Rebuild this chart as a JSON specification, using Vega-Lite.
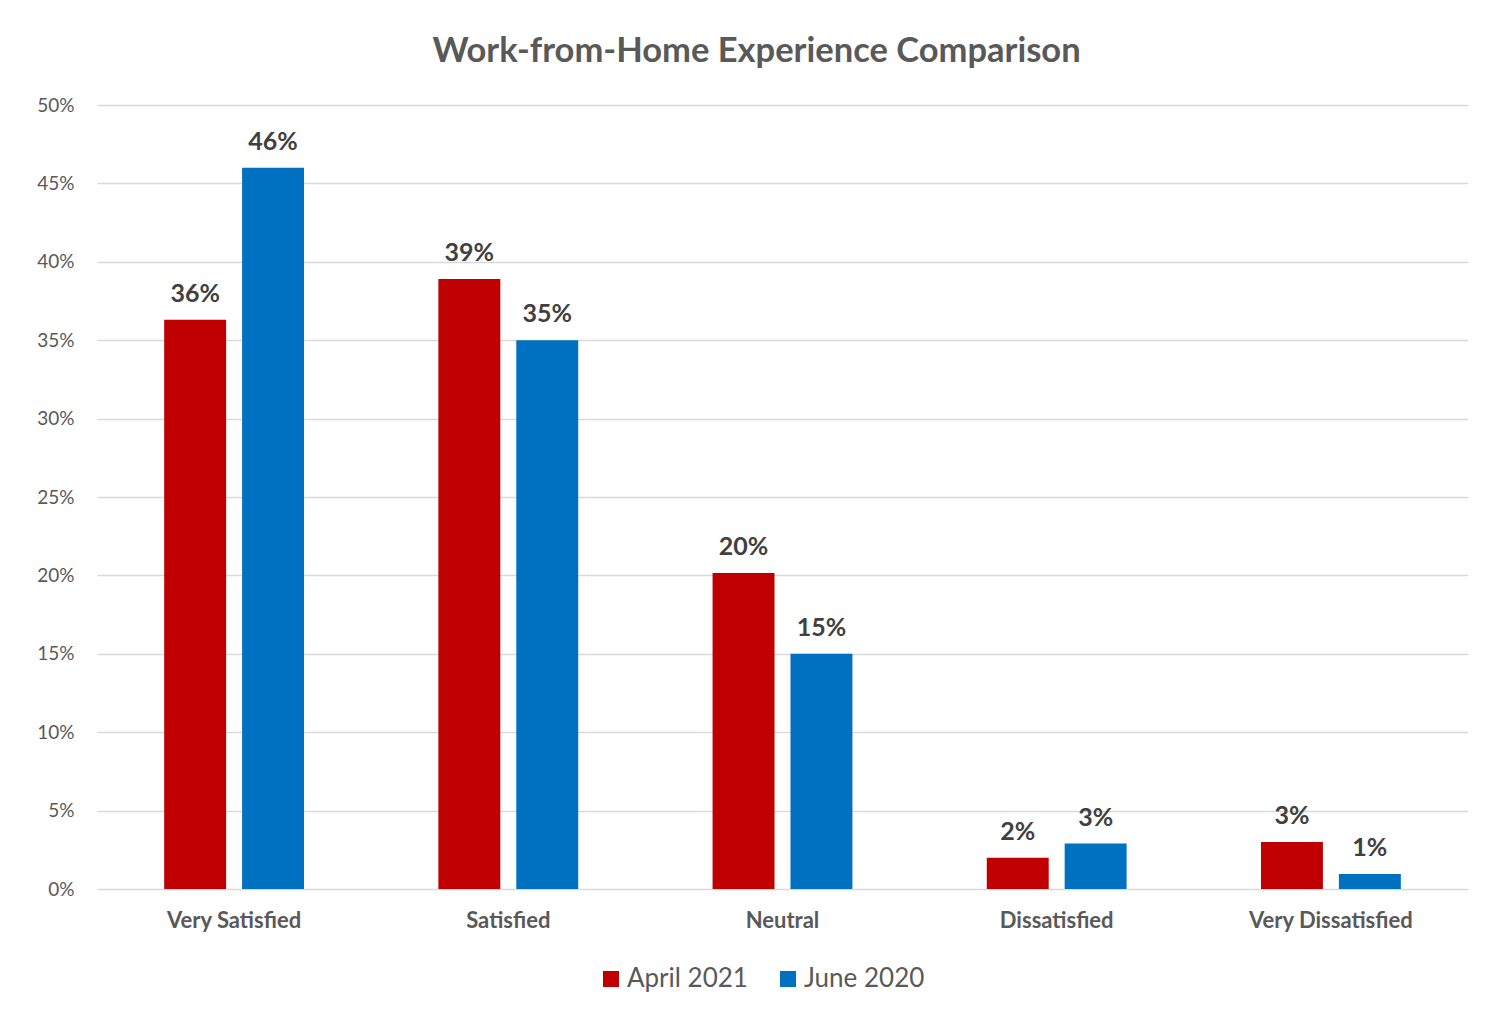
{
  "$schema": "https://vega.github.io/schema/vega-lite/v6.json",
  "width": 1371,
  "height": 784,
  "autosize": {"type": "none"},
  "padding": {"left": 97, "top": 105, "right": 33, "bottom": 123},
  "background": "white",
  "config": {"view": {"stroke": null}, "font": "Lato"},
  "title": {
    "text": "Work-from-Home Experience Comparison",
    "fontSize": 34.5,
    "fontWeight": "bold",
    "color": "#595959",
    "anchor": "middle",
    "dx": -26,
    "offset": 27
  },
  "data": {
    "values": [
      {"category": "Very Satisfied", "series": "April 2021", "value": 0.363},
      {"category": "Very Satisfied", "series": "June 2020", "value": 0.46},
      {"category": "Satisfied", "series": "April 2021", "value": 0.389},
      {"category": "Satisfied", "series": "June 2020", "value": 0.35},
      {"category": "Neutral", "series": "April 2021", "value": 0.2015},
      {"category": "Neutral", "series": "June 2020", "value": 0.15},
      {"category": "Dissatisfied", "series": "April 2021", "value": 0.02},
      {"category": "Dissatisfied", "series": "June 2020", "value": 0.029},
      {"category": "Very Dissatisfied", "series": "April 2021", "value": 0.03},
      {"category": "Very Dissatisfied", "series": "June 2020", "value": 0.0096}
    ]
  },
  "encoding": {
    "x": {
      "field": "category",
      "type": "nominal",
      "sort": ["Very Satisfied", "Satisfied", "Neutral", "Dissatisfied", "Very Dissatisfied"],
      "scale": {"paddingInner": 0.49, "paddingOuter": 0.245},
      "axis": {
        "title": null,
        "labelAngle": 0,
        "labelFontWeight": "bold",
        "labelFontSize": 22,
        "labelColor": "#595959",
        "ticks": false,
        "domain": false,
        "labelPadding": 21
      }
    },
    "xOffset": {
      "field": "series",
      "type": "nominal",
      "sort": ["April 2021", "June 2020"],
      "scale": {"paddingInner": 0.205, "paddingOuter": 0}
    },
    "y": {
      "field": "value",
      "type": "quantitative",
      "scale": {"domain": [0, 0.5]},
      "axis": {
        "title": null,
        "format": ".0%",
        "values": [0, 0.05, 0.1, 0.15, 0.2, 0.25, 0.3, 0.35, 0.4, 0.45, 0.5],
        "grid": true,
        "gridColor": "#d9d9d9",
        "gridWidth": 1.5,
        "domain": false,
        "ticks": false,
        "labelPadding": 23,
        "labelFontSize": 19,
        "labelColor": "#595959"
      }
    }
  },
  "layer": [
    {
      "mark": {"type": "bar"},
      "encoding": {
        "color": {
          "field": "series",
          "type": "nominal",
          "scale": {"domain": ["April 2021", "June 2020"], "range": ["#C00000", "#0070C0"]},
          "legend": {
            "title": null,
            "orient": "none",
            "direction": "horizontal",
            "legendX": 501,
            "legendY": 861,
            "symbolType": "square",
            "symbolSize": 256,
            "symbolStrokeWidth": 0,
            "labelFontSize": 26,
            "labelColor": "#595959",
            "labelOffset": 3,
            "columnPadding": 27
          }
        }
      }
    },
    {
      "mark": {
        "type": "text",
        "baseline": "alphabetic",
        "dy": -18,
        "fontWeight": "bold",
        "fontSize": 25,
        "color": "#404040"
      },
      "encoding": {
        "text": {"field": "value", "type": "quantitative", "format": ".0%"}
      }
    }
  ]
}
